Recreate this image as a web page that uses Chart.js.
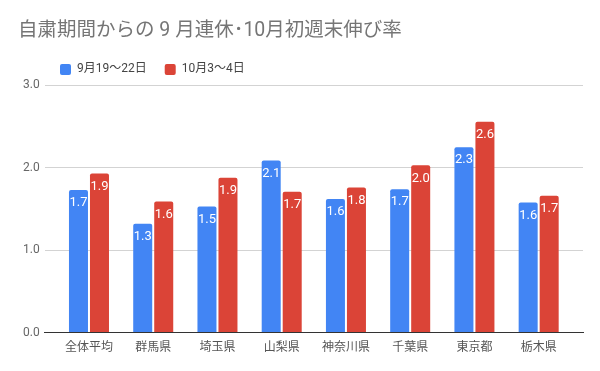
<!DOCTYPE html>
<html lang="ja">
<head>
<meta charset="utf-8">
<title>自粛期間からの 9 月連休･10月初週末伸び率</title>
<script src="https://cdn.jsdelivr.net/npm/chart.js@4/dist/chart.umd.min.js"></script>
<style>
  html, body { margin: 0; padding: 0; background: #fff; }
  #wrap { width: 600px; height: 371px; }
</style>
</head>
<body>
<div id="wrap"><canvas id="chart" width="600" height="371"></canvas></div>
<script>
// Chart data
const categories = ['全体平均', '群馬県', '埼玉県', '山梨県', '神奈川県', '千葉県', '東京都', '栃木県'];
const seriesNames = ['9月19〜22日', '10月3〜4日'];
const sepValues = [1.73, 1.32, 1.53, 2.09, 1.62, 1.74, 2.25, 1.58];
const octValues = [1.93, 1.59, 1.88, 1.71, 1.76, 2.03, 2.56, 1.66];
const yTicks = [0, 1, 2, 3];

const FONT = "Roboto, 'Noto Sans CJK JP', sans-serif";

// value labels drawn inside the top of each bar
const barLabels = {
    id: 'barLabels',
    afterDatasetsDraw(chart) {
        const ctx = chart.ctx;
        ctx.save();
        ctx.font = '13px ' + FONT;
        ctx.fillStyle = '#ffffff';
        ctx.textAlign = 'center';
        ctx.textBaseline = 'middle';
        chart.data.datasets.forEach((ds, i) => {
            chart.getDatasetMeta(i).data.forEach((bar, j) => {
                ctx.fillText(ds.data[j].y.toFixed(1), bar.x, bar.y + 13);
            });
        });
        ctx.restore();
    }
};

// move the legend right so it sits under the title like the original
const legendShift = {
    id: 'legendShift',
    afterLayout(chart) {
        chart.legend.left += 24;
        chart.legend.right += 24;
    }
};

new Chart(document.getElementById('chart'), {
    type: 'bar',
    data: {
        datasets: [{
            label: seriesNames[0],
            data: sepValues.map((v, i) => ({ x: i, y: v })),
            backgroundColor: '#4285f4',
            borderRadius: 2
        }, {
            label: seriesNames[1],
            data: octValues.map((v, i) => ({ x: i, y: v })),
            backgroundColor: '#db4437',
            borderRadius: 2
        }]
    },
    options: {
        responsive: false,
        animation: false,
        events: [],
        categoryPercentage: 0.654,
        barPercentage: 0.905,
        layout: { padding: { left: 18, right: 17, top: 0, bottom: 8 } },
        plugins: {
            title: {
                display: true,
                text: '自粛期間からの 9 月連休･10月初週末伸び率',
                align: 'start',
                color: '#757575',
                font: { family: FONT, size: 19.5, weight: 'normal' },
                padding: { top: 19, bottom: 3 }
            },
            legend: {
                display: true,
                align: 'start',
                labels: {
                    boxWidth: 11,
                    boxHeight: 11,
                    padding: 18,
                    color: '#444',
                    font: { family: FONT, size: 12 },
                    useBorderRadius: true,
                    borderRadius: 2
                }
            },
            tooltip: { enabled: false }
        },
        scales: {
            x: {
                type: 'linear',
                min: -0.69,
                max: 7.69,
                bounds: 'data',
                offset: false,
                grid: { display: false, drawTicks: false },
                border: { display: true, color: '#333', width: 1 },
                afterBuildTicks(scale) {
                    scale.ticks = categories.map((c, i) => ({ value: i }));
                },
                ticks: {
                    autoSkip: false,
                    maxRotation: 0,
                    padding: 8,
                    color: '#555',
                    font: { family: FONT, size: 12 },
                    callback: (v) => categories[v]
                }
            },
            y: {
                min: yTicks[0],
                max: yTicks[yTicks.length - 1],
                afterBuildTicks(scale) {
                    scale.ticks = yTicks.map(v => ({ value: v }));
                },
                border: { display: false },
                grid: {
                    drawTicks: false,
                    color: (c) => c.tick && c.tick.value === 0 ? '#333' : '#d3d3d3'
                },
                ticks: {
                    padding: 5,
                    color: '#666',
                    font: { family: FONT, size: 12 },
                    callback: (v) => Number(v).toFixed(1)
                }
            }
        }
    },
    plugins: [barLabels, legendShift]
});
</script>
</body>
</html>
